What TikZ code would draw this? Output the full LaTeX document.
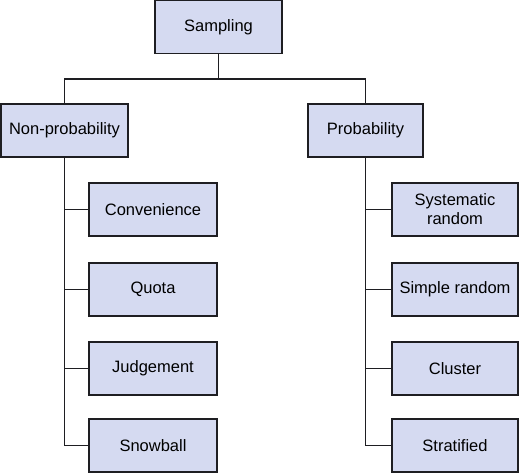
\documentclass[tikz,border=0pt]{standalone}
\usepackage{fontspec}
\setmainfont{Liberation Sans}
\definecolor{boxfill}{RGB}{213,218,241}
\definecolor{boxline}{RGB}{30,30,34}
\begin{document}
\begin{tikzpicture}[x=1pt,y=-1pt,line cap=rect,line join=miter,
  catbox/.style={draw=boxline,fill=boxfill,line width=1.8pt,minimum height=53pt,
    inner sep=2pt,align=center,font=\fontsize{16.5}{19}\selectfont},
  link/.style={draw=boxline,line width=1.7pt}]
  \useasboundingbox (0,0) rectangle (520,473);
  % top level
  \node[catbox,minimum width=127pt] (samp) at (218.5,27) {Sampling};
  \node[catbox,minimum width=127pt] (nonprob) at (64.5,130.5) {Non-probability};
  \node[catbox,minimum width=115pt] (prob) at (365.5,130.5) {Probability};
  \coordinate (bus) at (218.5,79);
  \draw[link] (samp) -- (bus) -| (nonprob);
  \draw[link] (bus) -| (prob);
  % non-probability methods
  \node[catbox,minimum width=128pt] (conv) at (153,209.5) {Convenience};
  \node[catbox,minimum width=128pt] (quota) at (153,289.5) {Quota};
  \node[catbox,minimum width=128pt] (judge) at (153,368.5) {Judgement};
  \node[catbox,minimum width=128pt] (snow) at (153,445.5) {Snowball};
  \draw[link] (nonprob.south) |- (snow.west);
  \draw[link] (nonprob.south |- conv.west) -- (conv.west);
  \draw[link] (nonprob.south |- quota.west) -- (quota.west);
  \draw[link] (nonprob.south |- judge.west) -- (judge.west);
  % probability methods
  \node[catbox,minimum width=126pt] (syst) at (455,209.5) {Systematic\\random};
  \node[catbox,minimum width=126pt] (simple) at (455,289.5) {Simple random};
  \node[catbox,minimum width=126pt] (clust) at (455,368.5) {Cluster};
  \node[catbox,minimum width=126pt] (strat) at (455,445.5) {Stratified};
  \draw[link] (prob.south) |- (strat.west);
  \draw[link] (prob.south |- syst.west) -- (syst.west);
  \draw[link] (prob.south |- simple.west) -- (simple.west);
  \draw[link] (prob.south |- clust.west) -- (clust.west);
\end{tikzpicture}
\end{document}
